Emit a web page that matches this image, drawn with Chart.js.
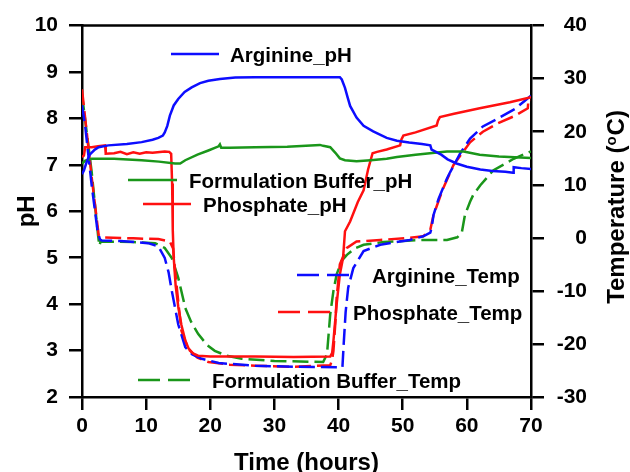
<!DOCTYPE html>
<html>
<head>
<meta charset="utf-8">
<script src="https://cdn.jsdelivr.net/npm/chart.js@4.4.1/dist/chart.umd.min.js"></script>
<style>
  body { margin: 0; background: #fff; }
  #wrap { width: 630px; height: 472px; }
</style>
</head>
<body>
<div id="wrap"><canvas id="chart"></canvas></div>
<script>
// readings taken off the figure: time in hours, pH on the left axis, temperature (C) on the right

const argPhTime = [0, 0.3, 0.7, 1.2, 2.0, 2.6, 4.1, 7, 9.3, 11, 11.9, 12.6, 12.9, 13.3, 13.7, 14.3, 15.0, 16.0, 17.1, 18.4, 19.7, 21.5, 23.9, 27, 32, 36, 40.2, 40.5, 41.0, 41.4, 41.8, 42.8, 43.9, 45.4, 47.5, 49.1, 51, 53, 54.3, 54.5, 56, 57, 58.4, 60, 62.1, 64, 66, 67.2, 67.3, 68.5, 70];
const argPhVal = [6.8, 6.88, 7.05, 7.22, 7.33, 7.38, 7.42, 7.45, 7.49, 7.54, 7.58, 7.63, 7.70, 7.84, 8.06, 8.28, 8.42, 8.57, 8.67, 8.76, 8.81, 8.85, 8.88, 8.89, 8.89, 8.89, 8.89, 8.84, 8.66, 8.46, 8.27, 8.02, 7.84, 7.72, 7.58, 7.52, 7.48, 7.45, 7.42, 7.33, 7.22, 7.12, 7.03, 6.96, 6.9, 6.87, 6.85, 6.83, 6.95, 6.93, 6.91];

const bufPhTime = [0, 0.5, 1.5, 5, 9.3, 12, 14.5, 15.3, 16.1, 18, 19.7, 21.3, 21.5, 21.7, 23, 27, 32, 37.1, 37.6, 38.7, 39.5, 40.2, 41, 42.8, 45, 47.5, 49.1, 52, 55, 56.9, 59.5, 62, 65, 70];
const bufPhVal = [7.03, 7.09, 7.13, 7.13, 7.10, 7.07, 7.03, 7.03, 7.1, 7.22, 7.31, 7.4, 7.44, 7.37, 7.37, 7.38, 7.39, 7.43, 7.41, 7.38, 7.26, 7.14, 7.1, 7.08, 7.1, 7.13, 7.17, 7.22, 7.26, 7.29, 7.29, 7.22, 7.18, 7.15];

const phosPhTime = [0, 0.3, 0.5, 1.5, 2.5, 3.6, 3.7, 5, 6, 7, 8, 9, 10, 11, 12.9, 13.6, 13.9, 14.05, 14.15, 14.3, 14.6, 15.0, 15.5, 16.1, 16.6, 17.3, 18.1, 20, 27, 33, 38.7, 39.0, 39.2, 39.7, 40.2, 40.7, 41.0, 41.8, 43.0, 43.9, 44.6, 45.3, 46, 47.5, 49.6, 49.8, 50.1, 52, 55.3, 55.5, 55.8, 58, 62, 66.7, 70];
const phosPhVal = [7.17, 7.2, 7.38, 7.38, 7.4, 7.42, 7.24, 7.25, 7.28, 7.23, 7.27, 7.24, 7.27, 7.26, 7.29, 7.28, 7.24, 6.6, 5.6, 5.0, 4.4, 3.95, 3.55, 3.22, 3.05, 2.94, 2.89, 2.87, 2.87, 2.86, 2.87, 2.95, 3.21, 4.0, 4.64, 5.0, 5.57, 5.78, 6.2, 6.45, 6.9, 7.25, 7.28, 7.33, 7.42, 7.55, 7.63, 7.7, 7.85, 7.95, 8.03, 8.1, 8.22, 8.35, 8.46];

const argTempTime = [0, 0.5, 1.5, 2.4, 2.8, 3.1, 6, 10.3, 11.9, 12.9, 13.5, 14.0, 15.0, 16.1, 17.2, 18.7, 21.3, 27, 33, 40.5, 40.6, 40.8, 41.1, 41.5, 42.3, 43.9, 46.5, 51.1, 53.2, 54.3, 54.5, 54.8, 55.6, 56.9, 57.4, 59, 60.5, 62.5, 64.7, 67.5, 69.0, 70];
const argTempVal = [25, 21, 10, 1.5, -0.3, -0.5, -0.6, -1.0, -1.6, -3.8, -6.5, -10.0, -16.3, -20.6, -22.0, -22.8, -23.6, -24.1, -24.3, -24.4, -24.4, -20, -14, -9.4, -5.7, -2.5, -1.3, -0.4, 0.3, 1.0, 1.8, 4.3, 7.4, 11.2, 12.4, 16, 18.7, 21, 22.4, 24.3, 25.8, 26.8];

const phosTempTime = [0, 1.5, 2.6, 3.1, 8, 11.9, 13.7, 14.2, 14.5, 15.0, 15.5, 16.6, 18, 19.7, 23, 27, 33, 38.7, 39.0, 39.2, 39.5, 39.7, 40.2, 41.3, 42.8, 46.5, 51.1, 53.2, 54.3, 54.8, 56.3, 57.9, 60.5, 62.5, 64.7, 67.5, 69.5, 69.6, 70];
const phosTempVal = [28, 11.5, 0.5, 0.1, -0.1, -0.24, -0.7, -2, -6, -12, -17.5, -21, -22.6, -23.4, -23.9, -24.1, -24.3, -24.0, -23, -21.3, -16, -11.3, -5.0, -1.9, -0.7, -0.4, 0.0, 0.3, 1.5, 4.3, 9.3, 13.7, 18, 20, 21.5, 23.0, 24.4, 26, 26];

const bufTempTime = [0, 1.5, 2.5, 2.7, 2.9, 8, 11.4, 12.9, 14.0, 15.0, 16.1, 17.0, 18.1, 19.5, 20.7, 22.5, 24.9, 30, 37.6, 38.2, 38.7, 39.2, 39.7, 40.5, 41.3, 42.5, 43.9, 47, 52.7, 56.9, 58.5, 59.2, 59.7, 60.5, 61, 62.1, 64.1, 67.3, 70];
const bufTempVal = [27, 12.5, 0.5, -1.5, -0.7, -0.8, -1.0, -1.9, -3.8, -7.5, -13.2, -15.8, -18.1, -20.2, -21.3, -22.2, -22.8, -23.2, -23.4, -21.9, -14.4, -10, -6.9, -4.3, -3.2, -2.0, -1.3, -0.8, -0.4, -0.4, 0.1, 0.9, 4.3, 6.8, 8.1, 9.9, 12.7, 14.9, 16.3];

const BLUE = '#0d0dff';
const RED = '#ff1010';
const GREEN = '#1a961a';
const DASH = [16, 6];
const FONT = '"Liberation Sans", Arial, sans-serif';

const pts = (ts, vs) => ts.map((t, i) => ({ x: t, y: vs[i] }));

const series = [
  { label: 'Arginine_pH', data: pts(argPhTime, argPhVal), color: BLUE, axis: 'y', dash: [] },
  { label: 'Formulation Buffer_pH', data: pts(bufPhTime, bufPhVal), color: GREEN, axis: 'y', dash: [] },
  { label: 'Phosphate_pH', data: pts(phosPhTime, phosPhVal), color: RED, axis: 'y', dash: [] },
  { label: 'Arginine_Temp', data: pts(argTempTime, argTempVal), color: BLUE, axis: 'y2', dash: DASH },
  { label: 'Phosphate_Temp', data: pts(phosTempTime, phosTempVal), color: RED, axis: 'y2', dash: DASH },
  { label: 'Formulation Buffer_Temp', data: pts(bufTempTime, bufTempVal), color: GREEN, axis: 'y2', dash: DASH },
];

// legend entries sit inside the plot, at the spots used in the figure
const legendSpots = [
  { label: 'Arginine_pH', color: BLUE, dash: [], x1: 171, x2: 219, y: 54, tx: 230 },
  { label: 'Formulation Buffer_pH', color: GREEN, dash: [], x1: 128, x2: 177, y: 180, tx: 189 },
  { label: 'Phosphate_pH', color: RED, dash: [], x1: 143, x2: 191, y: 204, tx: 203 },
  { label: 'Arginine_Temp', color: BLUE, dash: [22, 8], x1: 297, x2: 349, y: 275, tx: 372 },
  { label: 'Phosphate_Temp', color: RED, dash: [22, 8], x1: 278, x2: 330, y: 312, tx: 353 },
  { label: 'Formulation Buffer_Temp', color: GREEN, dash: [22, 8], x1: 138, x2: 190, y: 380, tx: 212 },
];

const overlay = {
  id: 'overlay',
  afterDraw(chart) {
    const { ctx, chartArea: a } = chart;
    ctx.save();
    // top frame line
    ctx.strokeStyle = '#000';
    ctx.lineWidth = 2.5;
    ctx.beginPath();
    ctx.moveTo(a.left, a.top);
    ctx.lineTo(a.right, a.top);
    ctx.stroke();

    // legend
    ctx.font = 'bold 20.5px ' + FONT;
    ctx.textBaseline = 'alphabetic';
    ctx.textAlign = 'left';
    legendSpots.forEach(s => {
      ctx.strokeStyle = s.color;
      ctx.lineWidth = 2.5;
      ctx.setLineDash(s.dash);
      ctx.beginPath();
      ctx.moveTo(s.x1, s.y);
      ctx.lineTo(s.x2, s.y);
      ctx.stroke();
      ctx.setLineDash([]);
      ctx.fillStyle = '#000';
      ctx.fillText(s.label, s.tx, s.y + 7.5);
    });

    // right axis title with superscript o
    const big = 'bold 24px ' + FONT;
    const small = 'bold 15px ' + FONT;
    ctx.font = big;
    const w1 = ctx.measureText('Temperature (').width;
    const w3 = ctx.measureText('C)').width;
    ctx.font = small;
    const w2 = ctx.measureText('o').width + 1;
    const total = w1 + w2 + w3;
    ctx.translate(624, 207);
    ctx.rotate(-Math.PI / 2);
    ctx.fillStyle = '#000';
    ctx.font = big;
    ctx.fillText('Temperature (', -total / 2, 0);
    ctx.font = small;
    ctx.fillText('o', -total / 2 + w1, -8);
    ctx.font = big;
    ctx.fillText('C)', -total / 2 + w1 + w2, 0);
    ctx.restore();
  }
};

const tickFont = { family: FONT, size: 21, weight: 'bold' };
const axisGrid = { drawOnChartArea: false, drawTicks: true, tickLength: 13, color: '#000', tickColor: '#000', lineWidth: 2.5, tickWidth: 2.5 };
const axisBorder = { display: true, color: '#000', width: 2.5 };

new Chart(document.getElementById('chart'), {
  type: 'line',
  data: {
    datasets: series.map(s => ({
      label: s.label,
      data: s.data,
      yAxisID: s.axis,
      borderColor: s.color,
      backgroundColor: s.color,
      borderWidth: 2.5,
      borderDash: s.dash,
      pointRadius: 0,
      tension: 0,
      fill: false
    }))
  },
  options: {
    responsive: true,
    maintainAspectRatio: false,
    animation: false,
    // right padding leaves room for the temperature title drawn by the overlay
    layout: { padding: { top: 23, left: 0, right: 43, bottom: 0 } },
    plugins: { legend: { display: false }, tooltip: { enabled: false } },
    scales: {
      x: {
        type: 'linear', min: 0, max: 70,
        ticks: { stepSize: 10, font: tickFont, color: '#000', padding: 4, maxRotation: 0 },
        grid: axisGrid, border: axisBorder,
        title: { display: true, text: 'Time (hours)', color: '#000', font: { family: FONT, size: 24, weight: 'bold', lineHeight: 0.75 }, padding: 0 },
        afterFit(s) { s.height = 75; }
      },
      y: {
        position: 'left', min: 2, max: 10,
        ticks: { stepSize: 1, font: tickFont, color: '#000', padding: 11 },
        grid: axisGrid, border: axisBorder,
        title: { display: true, text: 'pH', color: '#000', font: { family: FONT, size: 24, weight: 'bold', lineHeight: 0.75 }, padding: { top: 18, bottom: 0 } },
        afterFit(s) { s.width = 82; }
      },
      y2: {
        position: 'right', min: -30, max: 40,
        ticks: { stepSize: 10, font: tickFont, color: '#000', padding: 13, crossAlign: 'far' },
        grid: axisGrid, border: axisBorder,
        afterFit(s) { s.width = 56; }
      }
    }
  },
  plugins: [overlay]
});
</script>
</body>
</html>
